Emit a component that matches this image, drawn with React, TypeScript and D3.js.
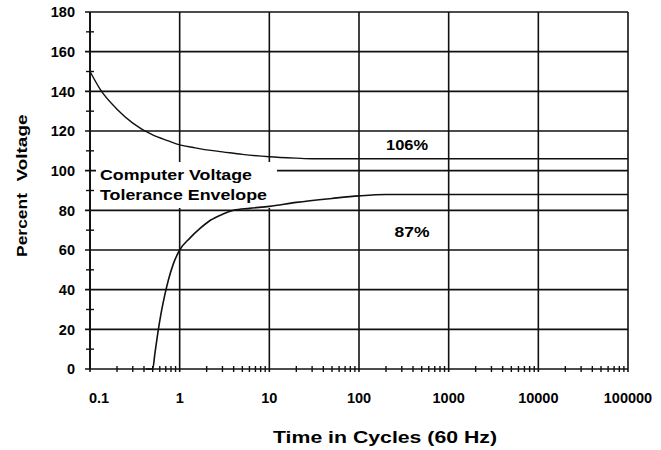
import React from "react";
import * as d3 from "d3";

const xTickValues = [0.1, 1, 10, 100, 1000, 10000, 100000];
const xTickLabels = ["0.1", "1", "10", "100", "1000", "10000", "100000"];
const yTickValues = [0, 20, 40, 60, 80, 100, 120, 140, 160, 180];
const upperX = [0.1, 0.13, 0.2, 0.3, 0.5, 0.75, 1, 1.5, 2, 3, 5, 10, 20, 30, 100000];
const upperY = [150, 141, 131, 124, 118, 115, 113, 111.5, 110.5, 109.5, 108.2, 107, 106.3, 106, 106];
const lowerX = [0.42, 0.5, 0.53, 0.57, 0.62, 0.68, 0.75, 0.85, 1, 1.3, 1.7, 2.2, 3, 4, 6, 10, 20, 50, 100, 200, 100000];
const lowerY = [0, 0, 8, 18, 28, 37, 45, 53, 60, 66, 71, 75, 78, 80, 81, 82, 84, 86, 87.3, 88, 88];
const labelUpper = "106%";
const labelLower = "87%";
const envelopeLines = ["Computer Voltage", "Tolerance Envelope"];
const xTitle = "Time in Cycles (60 Hz)";
const yTitleWords = ["Percent", "Voltage"];

const W = 661, H = 450;
const FONT = "'Liberation Sans', Arial, sans-serif";

export default function App() {
  const x = d3.scaleLog().domain([0.1, 100000]).range([90, 628]);
  const y = d3.scaleLinear().domain([0, 180]).range([369, 12]);
  const line = d3.line<[number, number]>().x(d => x(d[0])).y(d => y(d[1])).curve(d3.curveMonotoneX);
  const upper: [number, number][] = upperX.map((v, i) => [v, upperY[i]]);
  const lower: [number, number][] = lowerX.map((v, i) => [v, lowerY[i]]);

  const minorX: number[] = [];
  for (let e = -1; e < 5; e++) for (let k = 2; k <= 9; k++) minorX.push(k * Math.pow(10, e));
  const minorY = d3.range(10, 180, 20);

  const [x0, x1] = x.range();
  const [y0, y1] = y.range();
  const stroke = "#111";

  return (
    <svg width={W} height={H} style={{ position: "absolute", left: 0, top: 0, background: "#fff" }}
      fontFamily={FONT}>
      <rect x={0} y={0} width={W} height={H} fill="#fff" />
      {yTickValues.map(v => (
        <line key={"hy" + v} x1={x0 - 5} x2={x1} y1={y(v)} y2={y(v)} stroke={stroke} strokeWidth={1.6} />
      ))}
      {xTickValues.map(v => (
        <line key={"vx" + v} x1={x(v)} x2={x(v)} y1={y1} y2={y0 + 3} stroke={stroke} strokeWidth={1.6} />
      ))}
      {minorX.map(v => (
        <line key={"mx" + v} x1={x(v)} x2={x(v)} y1={y0 - 3} y2={y0 + 3} stroke={stroke} strokeWidth={1.4} />
      ))}
      {minorY.map(v => (
        <line key={"my" + v} x1={x0 - 4} x2={x0 + 4} y1={y(v)} y2={y(v)} stroke={stroke} strokeWidth={1.4} />
      ))}
      <rect x={96} y={162} width={181} height={46} fill="#fff" />
      <line x1={x0} x2={x0} y1={y1} y2={y0} stroke={stroke} strokeWidth={1.8} />
      <text x={100} y={180} fontSize={14.5} fontWeight="bold" textLength={152} lengthAdjust="spacingAndGlyphs">{envelopeLines[0]}</text>
      <text x={100} y={200} fontSize={14.5} fontWeight="bold" textLength={167} lengthAdjust="spacingAndGlyphs">{envelopeLines[1]}</text>
      <path d={line(upper) || ""} fill="none" stroke={stroke} strokeWidth={1.4} />
      <path d={line(lower) || ""} fill="none" stroke={stroke} strokeWidth={1.6} />
      <text x={407} y={150} fontSize={14} fontWeight="bold" textAnchor="middle" textLength={42} lengthAdjust="spacingAndGlyphs">{labelUpper}</text>
      <text x={412} y={237} fontSize={14} fontWeight="bold" textAnchor="middle" textLength={35} lengthAdjust="spacingAndGlyphs">{labelLower}</text>
      {yTickValues.map(v => (
        <text key={"ty" + v} x={75} y={y(v)} dy="0.36em" fontSize={14.5} fontWeight="bold" textAnchor="end">{v}</text>
      ))}
      {xTickValues.map((v, i) => (
        <text key={"tx" + v} x={x(v) + (i === 0 ? 9 : 0)} y={398} dy="0.36em" fontSize={14.5} fontWeight="bold" textAnchor="middle">{xTickLabels[i]}</text>
      ))}
      <text x={385} y={443} fontSize={17} fontWeight="bold" textAnchor="middle" textLength={224} lengthAdjust="spacingAndGlyphs">{xTitle}</text>
      <text transform={`translate(27,225) rotate(-90)`} fontSize={15} fontWeight="bold" textAnchor="middle" textLength={64} lengthAdjust="spacingAndGlyphs">{yTitleWords[0]}</text>
      <text transform={`translate(27,148) rotate(-90)`} fontSize={15} fontWeight="bold" textAnchor="middle" textLength={67} lengthAdjust="spacingAndGlyphs">{yTitleWords[1]}</text>
    </svg>
  );
}
